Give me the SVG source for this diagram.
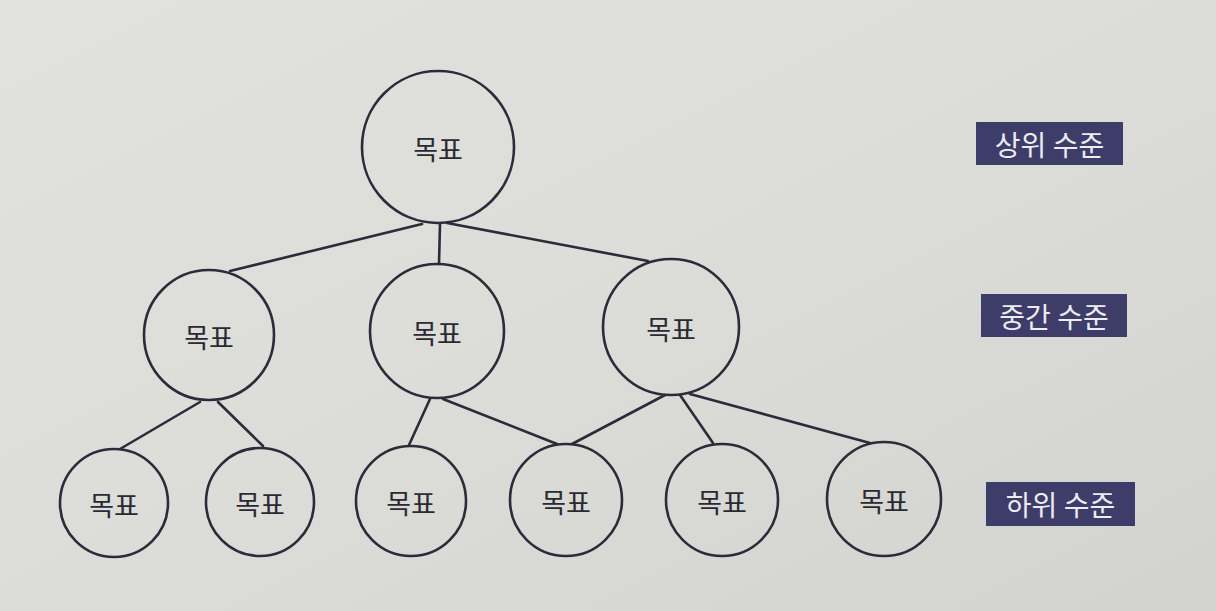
<svg xmlns="http://www.w3.org/2000/svg" width="1216" height="611" viewBox="0 0 1216 611">
<defs>
<linearGradient id="bg" x1="0" y1="0" x2="1" y2="1">
<stop offset="0" stop-color="#e1e1dd"/>
<stop offset="0.5" stop-color="#dcdcd8"/>
<stop offset="1" stop-color="#d2d2ce"/>
</linearGradient>
<style>
.node{fill:none;stroke:#2c2b3a;stroke-width:2.6}
.lbl{font-family:"Noto Sans CJK KR","Noto Sans",sans-serif;font-size:27px;fill:#2a2a32;text-anchor:middle;dominant-baseline:central}
.edge{stroke:#2c2b3a;stroke-width:2.6;fill:none;stroke-linecap:round}
.tag{fill:#3e3d6a}
.tagt{font-family:"Noto Sans CJK KR","Noto Sans",sans-serif;font-size:28px;fill:#ececf2;text-anchor:middle;dominant-baseline:central}
</style>
</defs>
<rect x="0" y="0" width="1216" height="611" fill="url(#bg)"/>
<g id="connectors">
<line class="edge" x1="422" y1="224" x2="230" y2="271"/>
<line class="edge" x1="440" y1="224" x2="439" y2="264"/>
<line class="edge" x1="447" y1="223" x2="648" y2="261"/>
<line class="edge" x1="200" y1="402" x2="120" y2="449"/>
<line class="edge" x1="218" y1="402" x2="263" y2="446"/>
<line class="edge" x1="430" y1="399" x2="409" y2="445"/>
<line class="edge" x1="443" y1="399" x2="557" y2="444"/>
<line class="edge" x1="665" y1="395" x2="572" y2="444"/>
<line class="edge" x1="680" y1="395" x2="713" y2="443"/>
<line class="edge" x1="690" y1="394" x2="870" y2="443"/>
</g>
<g id="top"><circle class="node" cx="438" cy="147" r="76"/><text class="lbl" x="438" y="148">목표</text></g>
<g id="mid1"><circle class="node" cx="209" cy="335" r="65"/><text class="lbl" x="209" y="336">목표</text></g>
<g id="mid2"><circle class="node" cx="437" cy="331" r="67"/><text class="lbl" x="437" y="332">목표</text></g>
<g id="mid3"><circle class="node" cx="671" cy="327" r="68"/><text class="lbl" x="671" y="328">목표</text></g>
<g id="b1"><circle class="node" cx="114" cy="503" r="54"/><text class="lbl" x="114" y="504">목표</text></g>
<g id="b2"><circle class="node" cx="260" cy="502" r="54"/><text class="lbl" x="260" y="503">목표</text></g>
<g id="b3"><circle class="node" cx="411" cy="501" r="55"/><text class="lbl" x="411" y="502">목표</text></g>
<g id="b4"><circle class="node" cx="566" cy="500" r="56"/><text class="lbl" x="566" y="501">목표</text></g>
<g id="b5"><circle class="node" cx="722" cy="500" r="56"/><text class="lbl" x="722" y="501">목표</text></g>
<g id="b6"><circle class="node" cx="884" cy="499" r="57"/><text class="lbl" x="884" y="500">목표</text></g>
<g id="tag-top"><rect class="tag" x="976" y="122" width="147" height="43"/><text class="tagt" x="1049.5" y="143.5">상위 수준</text></g>
<g id="tag-mid"><rect class="tag" x="981" y="294" width="146" height="43"/><text class="tagt" x="1054" y="315.5">중간 수준</text></g>
<g id="tag-low"><rect class="tag" x="986" y="482" width="149" height="44"/><text class="tagt" x="1060.5" y="504">하위 수준</text></g>
</svg>
